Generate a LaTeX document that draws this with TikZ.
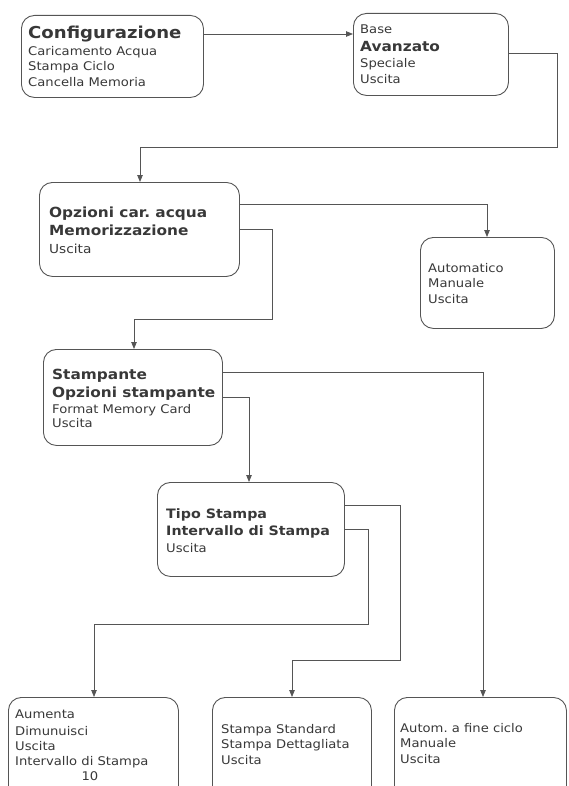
\documentclass[tikz,border=0pt]{standalone}
\usepackage{fontspec}
\setmainfont{DejaVu Sans}[FakeStretch=1.1]
\usetikzlibrary{arrows.meta}
\frenchspacing
\definecolor{ink}{HTML}{383838}
\definecolor{edge}{HTML}{555555}
\tikzset{
  box/.style={draw=edge, line width=0.9bp, rounded corners=13bp, inner sep=0pt, anchor=north west},
  conn/.style={draw=edge, line width=0.8bp, -{Triangle[length=7bp,width=5.5bp]}},
  t/.style={inner sep=0pt, anchor=base west, text=ink, font=\fontsize{12}{14}\selectfont},
  tb/.style={t, font=\fontsize{14}{16}\bfseries\selectfont},
  tbs/.style={t, font=\fontsize{13}{15}\bfseries\selectfont},
  tbig/.style={t, font=\fontsize{16.5}{19}\bfseries\selectfont},
}
\begin{document}
\begin{tikzpicture}[x=1bp,y=-1bp]
\useasboundingbox (0,0) rectangle (569,786);
\clip (0,0) rectangle (569,786);
% boxes
\node[box, minimum width=182bp, minimum height=82bp] (cfg) at (21,15) {};
\node[box, minimum width=155bp, minimum height=82bp] (base) at (353,13) {};
\node[box, minimum width=200bp, minimum height=94bp] (opz) at (39,182) {};
\node[box, minimum width=134bp, minimum height=91bp] (auto) at (420,237) {};
\node[box, minimum width=179bp, minimum height=96bp] (stp) at (43,349) {};
\node[box, minimum width=187bp, minimum height=94bp] (tipo) at (157,482) {};
\node[box, minimum width=170bp, minimum height=110bp] (aum) at (8,697) {};
\node[box, minimum width=159bp, minimum height=110bp] (std) at (212,697) {};
\node[box, minimum width=172bp, minimum height=110bp] (fine) at (394,697) {};
% texts
\node[tbig] (c1) at (28,39) {Configurazione};
\node[t] (c2) at (28,56) {Caricamento Acqua};
\node[t] (c3) at (28,71) {Stampa Ciclo};
\node[t] (c4) at (28,86) {Cancella Memoria};
\node[t] (b1) at (360,34) {Base};
\node[tb] (b2) at (360,52) {Avanzato};
\node[t] (b3) at (360,68) {Speciale};
\node[t] (b4) at (360,83) {Uscita};
\node[tb] (o1) at (49,217) {Opzioni car. acqua};
\node[tb] (o2) at (49,235) {Memorizzazione};
\node[t, font=\fontsize{12.5}{15}\selectfont] (o3) at (49,253) {Uscita};
\node[t] (a1) at (428,272) {Automatico};
\node[t] (a2) at (428,287) {Manuale};
\node[t] (a3) at (428,303) {Uscita};
\node[tb] (s1) at (52,379) {Stampante};
\node[tb] (s2) at (52,397) {Opzioni stampante};
\node[t] (s3) at (52,413) {Format Memory Card};
\node[t] (s4) at (52,427) {Uscita};
\node[tbs] (p1) at (166,518) {Tipo Stampa};
\node[tbs] (p2) at (166,535) {Intervallo di Stampa};
\node[t] (p3) at (166,552) {Uscita};
\node[t] (u1) at (15,718) {Aumenta};
\node[t] (u2) at (15,735) {Dimunuisci};
\node[t] (u3) at (15,750) {Uscita};
\node[t] (u4) at (15,765) {Intervallo di Stampa};
\node[t, anchor=base] (u5) at (90,780) {10};
\node[t] (d1) at (221,733) {Stampa Standard};
\node[t] (d2) at (221,748) {Stampa Dettagliata};
\node[t] (d3) at (221,764) {Uscita};
\node[t] (f1) at (400,732) {Autom. a fine ciclo};
\node[t] (f2) at (400,747) {Manuale};
\node[t] (f3) at (400,763) {Uscita};
% connectors
\draw[conn] (cfg.east |- 0,34) -- (base.west |- 0,34);
\draw[conn] (base.east |- 0,53) -| (557,147) -| (opz.north -| 140,0);
\draw[conn] (opz.east |- 0,204) -| (auto.north -| 487,0);
\draw[conn] (opz.east |- 0,229) -| (272,319) -| (stp.north -| 134,0);
\draw[conn] (stp.east |- 0,372) -| (fine.north -| 483,0);
\draw[conn] (stp.east |- 0,397) -| (tipo.north -| 249,0);
\draw[conn] (tipo.east |- 0,505) -| (400,660) -| (std.north -| 292,0);
\draw[conn] (tipo.east |- 0,529) -| (368,624) -| (aum.north -| 94,0);
\end{tikzpicture}
\end{document}
